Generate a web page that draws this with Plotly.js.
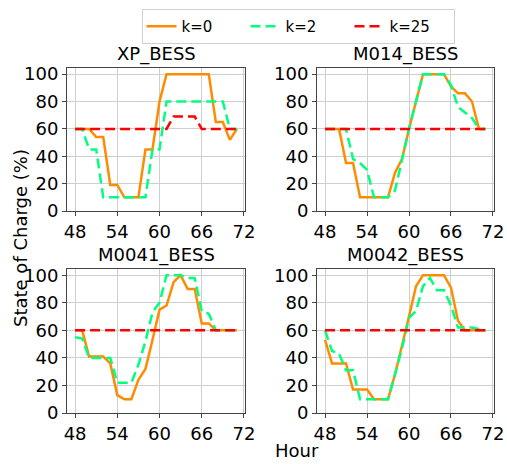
<!DOCTYPE html>
<html>
<head>
<meta charset="utf-8">
<script src="https://cdn.plot.ly/plotly-3.0.1.min.js"></script>
<style>html,body{margin:0;padding:0;background:#fff;}#chart{width:507px;height:464px;}</style>
</head>
<body>
<div id="chart"></div>
<script>
const hours = [48,49,50,51,52,53,54,55,56,57,58,59,60,61,62,63,64,65,66,67,68,69,70,71];
const seriesNames = ["k=0", "k=2", "k=25"];
const subplotTitles = ["XP_BESS", "M014_BESS", "M0041_BESS", "M0042_BESS"];
const xTicks = [48, 54, 60, 66, 72];
const yTicks = [0, 20, 40, 60, 80, 100];

const xp_k0  = [60,60,60,54,54,19,19,10,10,10,45,45,80,100,100,100,100,100,100,100,65,65,52,60];
const xp_k2  = [60,60,45,45,10,10,10,10,10,10,10,45,45,80,80,80,80,80,80,80,80,80,60,60];
const xp_k25 = [60,60,60,60,60,60,60,60,60,60,60,60,60,60,69,69,69,69,60,60,60,60,60,60];

const m014_k0  = [60,60,60,35,35,10,10,10,10,10,28,38,60,80,100,100,100,100,91,86,86,80,60,60];
const m014_k2  = [60,60,60,60,38,35,30,10,10,10,15,38,60,80,100,100,100,100,92,76,72,68,60,60];
const m014_k25 = [60,60,60,60,60,60,60,60,60,60,60,60,60,60,60,60,60,60,60,60,60,60,60,60];

const m0041_k0  = [60,60,41,41,41,36,13,10,10,24,32,53,75,78,95,100,90,90,65,65,60,60,60,60];
const m0041_k2  = [55,54,40,40,40,40,22,22,22,35,52,73,80,100,100,100,98,98,74,72,60,60,60,60];
const m0041_k25 = [60,60,60,60,60,60,60,60,60,60,60,60,60,60,60,60,60,60,60,60,60,60,60,60];

const m0042_k0  = [53,36,36,36,17,17,17,10,10,10,28,48,70,92,100,100,100,100,91,67,60,60,60,60];
const m0042_k2  = [60,45,43,31,31,10,10,10,10,10,28,47,69,74,92,98,89,89,78,62,62,62,61,60];
const m0042_k25 = [60,60,60,60,60,60,60,60,60,60,60,60,60,60,60,60,60,60,60,60,60,60,60,60];

const allData = [
  [xp_k0, xp_k2, xp_k25],
  [m014_k0, m014_k2, m014_k25],
  [m0041_k0, m0041_k2, m0041_k25],
  [m0042_k0, m0042_k2, m0042_k25]
];

const colors = ["#ff8c00", "#00ff7f", "#ff0000"];
const dashes = ["solid", "10px,5px", "10px,5px"];
const W = 507, H = 464;
const FONT = "DejaVu Sans, sans-serif";
const FS = 18;

// pixel boxes for each subplot [left, right, top, bottom]
const boxes = [[67,245,68,211],[317,494,68,211],[67,245,269,413],[317,494,269,413]];

const traces = [];
const layout = {
  width: W, height: H,
  margin: {l:0, r:0, t:0, b:0},
  paper_bgcolor: "#fff", plot_bgcolor: "#fff",
  font: {family: FONT, size: FS, color: "#000"},
  showlegend: true,
  legend: {
    orientation: "h",
    x: 141.5/W, xanchor: "left",
    y: 1 - 9/H, yanchor: "top",
    bordercolor: "#d0d0d0", borderwidth: 1,
    font: {family: FONT, size: 15, color: "#000"},
    entrywidth: 59, entrywidthmode: "pixels",
    tracegroupgap: 0
  },
  annotations: []
};

allData.forEach((series, i) => {
  const ax = i === 0 ? "" : String(i+1);
  series.forEach((vals, j) => {
    traces.push({
      x: hours, y: vals, type: "scatter", mode: "lines",
      name: seriesNames[j], legendgroup: seriesNames[j],
      showlegend: i === 0,
      line: {color: colors[j], width: 2.5, dash: dashes[j]},
      xaxis: "x" + ax, yaxis: "y" + ax
    });
  });
  const b = boxes[i];
  const common = {
    showline: true, mirror: true, linecolor: "#444", linewidth: 1,
    ticks: "outside", ticklen: 4, tickcolor: "#444",
    showgrid: true, gridcolor: "#cfcfcf", gridwidth: 1,
    zeroline: false,
    tickfont: {family: FONT, size: FS, color: "#000"}
  };
  layout["xaxis" + ax] = Object.assign({}, common, {
    domain: [b[0]/W, b[1]/W], range: [46.85, 72.15],
    tickvals: xTicks, ticktext: xTicks.map(String),
    anchor: "y" + ax
  });
  layout["yaxis" + ax] = Object.assign({}, common, {
    domain: [1 - b[3]/H, 1 - b[2]/H], range: [0, 104.5],
    tickvals: yTicks, ticktext: yTicks.map(String),
    anchor: "x" + ax
  });
  layout.annotations.push({
    text: subplotTitles[i], xref: "paper", yref: "paper",
    x: (b[0]+b[1])/2/W, y: 1 - b[2]/H, xanchor: "center", yanchor: "bottom",
    yshift: 1, showarrow: false,
    font: {family: FONT, size: FS, color: "#000"}
  });
});

layout.annotations.push({
  text: "State of Charge (%)", xref: "paper", yref: "paper",
  x: 20/W, y: 1 - 238/H, xanchor: "center", yanchor: "middle",
  textangle: -90, showarrow: false,
  font: {family: FONT, size: FS, color: "#000"}
});
layout.annotations.push({
  text: "Hour", xref: "paper", yref: "paper",
  x: 297/W, y: 0, xanchor: "center", yanchor: "bottom",
  yshift: 1, showarrow: false,
  font: {family: FONT, size: FS, color: "#000"}
});

Plotly.newPlot("chart", traces, layout, {displayModeBar: false, staticPlot: true});
</script>
</body>
</html>
